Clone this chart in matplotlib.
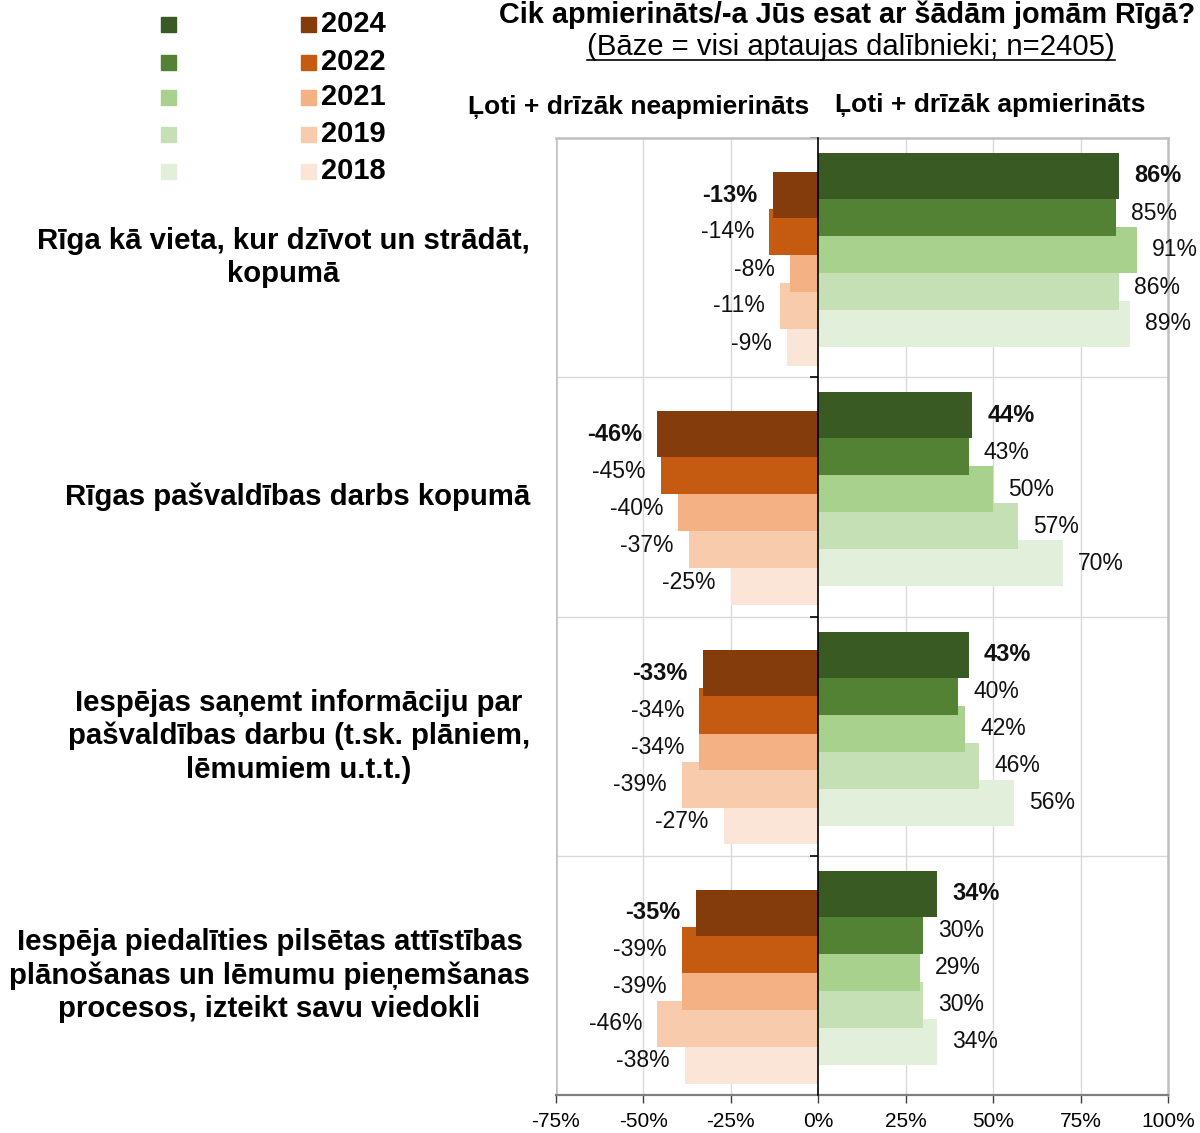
import matplotlib
matplotlib.use("Agg")
import matplotlib.pyplot as plt
from matplotlib import font_manager
from matplotlib.transforms import blended_transform_factory
from matplotlib.patches import Rectangle
from matplotlib.lines import Line2D
import numpy as np

# ---------------- data ----------------
categories = [
    "Rīga kā vieta, kur dzīvot un strādāt,\nkopumā",
    "Rīgas pašvaldības darbs kopumā",
    "Iespējas saņemt informāciju par\npašvaldības darbu (t.sk. plāniem,\nlēmumiem u.t.t.)",
    "Iespēja piedalīties pilsētas attīstības\nplānošanas un lēmumu pieņemšanas\nprocesos, izteikt savu viedokli",
]
years = ["2024", "2022", "2021", "2019", "2018"]

sat_2024 = [86, 44, 43, 34]
sat_2022 = [85, 43, 40, 30]
sat_2021 = [91, 50, 42, 29]
sat_2019 = [86, 57, 46, 30]
sat_2018 = [89, 70, 56, 34]

dis_2024 = [-13, -46, -33, -35]
dis_2022 = [-14, -45, -34, -39]
dis_2021 = [-8, -40, -34, -39]
dis_2019 = [-11, -37, -39, -46]
dis_2018 = [-9, -25, -27, -38]

satisfied = [sat_2024, sat_2022, sat_2021, sat_2019, sat_2018]
dissatisfied = [dis_2024, dis_2022, dis_2021, dis_2019, dis_2018]

x_ticks = [-75, -50, -25, 0, 25, 50, 75, 100]

title = "Cik apmierināts/-a Jūs esat ar šādām jomām Rīgā?"
subtitle = "(Bāze = visi aptaujas dalībnieki; n=2405)"
header_neg = "Ļoti + drīzāk neapmierināts"
header_pos = "Ļoti + drīzāk apmierināts"

green_colors = ["#3A5A24", "#548235", "#A9D18E", "#C5E0B4", "#E2EFDA"]
orange_colors = ["#843C0C", "#C55A11", "#F4B183", "#F8CBAD", "#FBE5D6"]

# ---------------- fonts ----------------
avail = {f.name for f in font_manager.fontManager.ttflist}
BASE = "Liberation Sans" if "Liberation Sans" in avail else "DejaVu Sans"
NARROW = "Liberation Sans Narrow" if "Liberation Sans Narrow" in avail else BASE
plt.rcParams["font.family"] = [BASE, "DejaVu Sans"]

W, H = 1200, 1133
fig = plt.figure(figsize=(W / 100, H / 100), dpi=100)
fig.patch.set_facecolor("white")

ax = fig.add_axes([556 / W, 1 - 1095 / H, 612 / W, 957 / H])

n_groups = len(categories)
bar_h = 46 / 239.25
step = 37 / 239.25
g_off = 38 / 239.25
o_off = 57 / 239.25

# draw from 2018 up to 2024 so that 2024 is on top
for j in reversed(range(len(years))):
    gy = np.arange(n_groups) + g_off + j * step
    oy = np.arange(n_groups) + o_off + j * step
    ax.barh(gy, satisfied[j], height=bar_h, color=green_colors[j], zorder=3 + (5 - j))
    ax.barh(oy, dissatisfied[j], height=bar_h, color=orange_colors[j], zorder=3 + (5 - j))

# value labels
for j in range(len(years)):
    gy = np.arange(n_groups) + g_off + j * step
    oy = np.arange(n_groups) + o_off + j * step
    fw = "bold" if j == 0 else "normal"
    fs = 17 if j == 0 else 16.5
    for i in range(n_groups):
        ax.annotate(f"{satisfied[j][i]}%", (satisfied[j][i], gy[i]),
                    xytext=(11, 0), textcoords="offset points",
                    ha="left", va="center", fontsize=fs, fontweight=fw,
                    color="#111111", zorder=20)
        ax.annotate(f"{dissatisfied[j][i]}%", (dissatisfied[j][i], oy[i]),
                    xytext=(-11, 0), textcoords="offset points",
                    ha="right", va="center", fontsize=fs, fontweight=fw,
                    color="#111111", zorder=20)

ax.set_xlim(-75, 100)
ax.set_ylim(n_groups, 0)
ax.set_xticks(x_ticks)
ax.set_xticklabels([f"{v}%" for v in x_ticks], fontsize=15)
ax.tick_params(axis="x", direction="out", length=6, width=1, color="#404040", pad=6)

# grid
for v in x_ticks:
    if v not in (-75, 0, 100):
        ax.axvline(v, color="#D9D9D9", lw=1, zorder=1)
for k in range(1, n_groups):
    ax.axhline(k, color="#D9D9D9", lw=1, zorder=1)

# spines / frame
ax.spines["left"].set_position(("data", 0))
ax.spines["left"].set_color("black")
ax.spines["left"].set_linewidth(1.2)
ax.spines["left"].set_zorder(15)
ax.set_yticks(np.arange(0, n_groups + 0.01, 0.5))
ax.set_yticklabels([])
ax.tick_params(axis="y", direction="out", length=6, width=1.2, color="black")
for s in ("top", "right"):
    ax.spines[s].set_color("#BFBFBF")
    ax.spines[s].set_linewidth(1.8)
ax.spines["bottom"].set_color("#808080")
ax.spines["bottom"].set_linewidth(1.6)
ax.axvline(-75, color="#BFBFBF", lw=1.8, zorder=2)

# category labels
trans = blended_transform_factory(fig.transFigure, ax.transData)
for i, cat in enumerate(categories):
    ax.text(530 / W, i + 0.5, cat, transform=trans, ha="right", va="center",
            multialignment="center", fontsize=21.2, fontweight="bold",
            linespacing=1.24, color="black")

# legend (manual)
leg_y = [24, 62, 97, 134, 171]
for j, yr in enumerate(years):
    yc = 1 - leg_y[j] / H
    fig.patches.append(Rectangle((161 / W, yc - 7.5 / H), 15 / W, 15 / H,
                                 transform=fig.transFigure, color=green_colors[j]))
    fig.patches.append(Rectangle((301 / W, yc - 7.5 / H), 15 / W, 15 / H,
                                 transform=fig.transFigure, color=orange_colors[j]))
    fig.text(321 / W, yc, yr, ha="left", va="center", fontsize=21,
             fontweight="bold", color="black")

# titles
t1 = fig.text(499 / W, 1 - 15 / H, title, ha="left", va="center",
              fontsize=21, fontweight="bold", family=[NARROW, "DejaVu Sans"])
t2 = fig.text(851 / W, 1 - 47 / H, subtitle, ha="center", va="center",
              fontsize=20, family=[NARROW, "DejaVu Sans"])
t3 = fig.text(639 / W, 1 - 107 / H, header_neg, ha="center", va="center",
              fontsize=19, fontweight="bold", family=[NARROW, "DejaVu Sans"])
t4 = fig.text(990 / W, 1 - 105 / H, header_pos, ha="center", va="center",
              fontsize=19, fontweight="bold", family=[NARROW, "DejaVu Sans"])

fig.canvas.draw()
r = fig.canvas.get_renderer()
for t, target in ((t1, 696), (t2, 527), (t3, 342), (t4, 311)):
    w = t.get_window_extent(r).width
    t.set_fontsize(t.get_fontsize() * target / w)
fig.canvas.draw()
bb = t2.get_window_extent(r)
fig.add_artist(Line2D([bb.x0 / W, bb.x1 / W], [(bb.y0 + 1) / H, (bb.y0 + 1) / H],
                      transform=fig.transFigure, color="black", lw=1.2))

fig.savefig("out.png", dpi=100, facecolor="white")
